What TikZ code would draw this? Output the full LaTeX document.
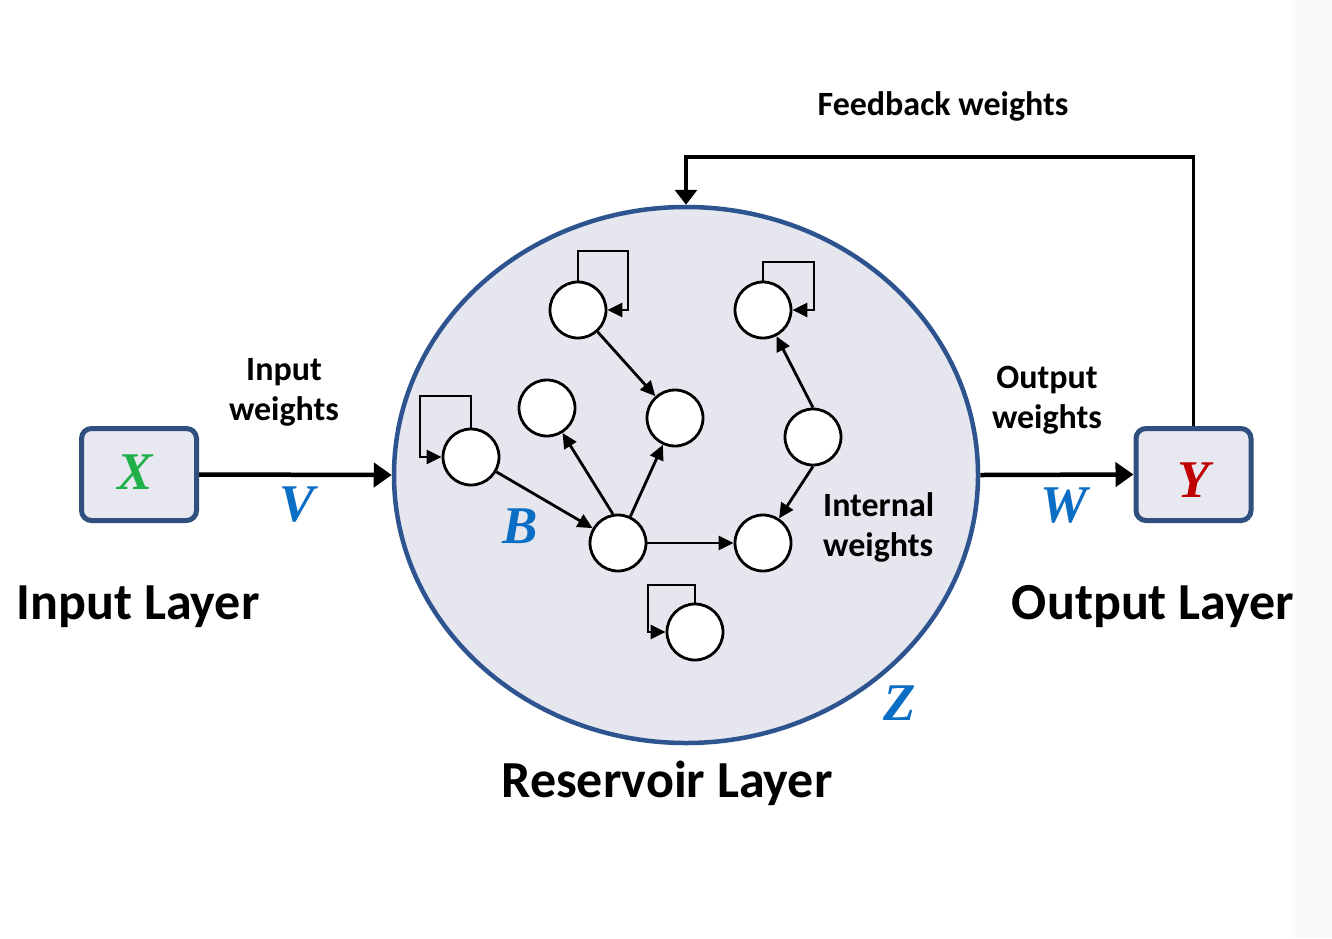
\documentclass[tikz,border=0pt]{standalone}
\usepackage{fontspec}
\setmainfont{Carlito}
\newfontfamily\letfont{Liberation Serif}
\usetikzlibrary{arrows.meta,shapes.geometric}
\definecolor{boxblue}{HTML}{2F4F7F}
\definecolor{boxfill}{HTML}{E8E8F1}
\definecolor{ringblue}{HTML}{2E5490}
\definecolor{ringfill}{HTML}{E6E6EF}
\definecolor{letblue}{HTML}{0A6EC4}
\definecolor{letgreen}{HTML}{20B04A}
\definecolor{letred}{HTML}{C00000}
\definecolor{stripgray}{HTML}{FAFAFA}
\tikzset{
  iobox/.style={draw=boxblue, fill=boxfill, line width=5pt, rounded corners=10pt,
    minimum width=115pt, minimum height=92pt, inner sep=0pt},
  reservoir/.style={draw=ringblue, fill=ringfill, line width=4.5pt, ellipse,
    minimum width=584pt, minimum height=536pt, inner sep=0pt},
  neuron/.style={draw=black, fill=white, line width=2.8pt, circle, minimum size=56pt, inner sep=0pt},
  edge/.style={draw=black, line width=2.8pt, -{Triangle[length=15pt,width=14pt]}},
  bigarrow/.style={draw=black, line width=4.5pt, -{Triangle[length=18pt,width=24pt]}},
  fbarrow/.style={draw=black, line width=3.5pt, -{Triangle[length=15pt,width=22pt]}},
  lbl/.style={font=\fontsize{34}{40}\selectfont\bfseries, inner sep=0pt},
  title/.style={font=\fontsize{52}{56}\selectfont\bfseries, inner sep=0pt},
  letter/.style={font=\fontsize{53}{56}\selectfont\letfont\bfseries\itshape, inner sep=0pt}
}
\begin{document}
\begin{tikzpicture}[x=1pt,y=-1pt]
\useasboundingbox (0,0) rectangle (1332,938);
\fill[white] (0,0) rectangle (1332,938);
\fill[stripgray] (1292,0) rectangle (1332,938);

% reservoir
\node[reservoir] (res) at (686,475) {};

% input / output boxes
\node[iobox] (in) at (139,474.5) {};
\node[iobox] (out) at (1193.5,474.5) {};
\node[letter, text=letgreen] (xl) at (135,472) {X};
\node[letter, text=letred] (yl) at (1194,480) {Y};

% main connectors
\draw[bigarrow] (in.east) -- (res.west);
\draw[bigarrow] (res.east) -- (out.west);
\coordinate (fbc) at (686,157);
\draw[fbarrow] (out.north) |- (fbc) -- (res.north);

% neurons
\node[neuron] (A) at (578,310) {};
\node[neuron] (Bn) at (763,310) {};
\node[neuron] (C) at (547,408) {};
\node[neuron] (D) at (675,418) {};
\node[neuron] (E) at (813,437) {};
\node[neuron] (F) at (471,457) {};
\node[neuron] (G) at (618,543) {};
\node[neuron] (H) at (763,543) {};
\node[neuron] (I) at (695,632) {};

% self loops
\coordinate (Aloop) at (628,251);
\coordinate (Bloop) at (814,262);
\coordinate (Floop) at (420,396);
\coordinate (Iloop) at (648,585);
\draw[edge] (A.north) |- (Aloop) |- (A.east);
\draw[edge] (Bn.north) |- (Bloop) |- (Bn.east);
\draw[edge] (F.north) |- (Floop) |- (F.west);
\draw[edge] (I.north) |- (Iloop) |- (I.west);

% internal edges
\draw[edge] (F) -- (G);
\draw[edge] (G.100) -- (C);
\draw[edge] (G.65) -- (D);
\draw[edge] (G) -- (H);
\draw[edge] (A) -- (D);
\draw[edge] (E.north) -- (Bn);
\draw[edge] (E.south) -- (H);

% labels
\node[lbl, align=center] (inw) at (284,392) {Input\\weights};
\node[lbl, align=center] (outw) at (1047,400) {Output\\weights};
\node[lbl, align=left, anchor=west] (intw) at (823,527) {Internal\\weights};
\node[lbl] (fbw) at (943,106) {Feedback weights};

\node[letter, text=letblue] (vl) at (297,505) {V};
\node[letter, text=letblue] (bl) at (520,526) {B};
\node[letter, text=letblue] (wl) at (1064,506) {W};
\node[letter, text=letblue] (zl) at (900,703) {Z};

\node[title] (inl) at (138,607) {Input Layer};
\node[title] (resl) at (667,783) {Reservoir Layer};
\node[title] (outl) at (1153,607) {Output Layer};
\end{tikzpicture}
\end{document}
